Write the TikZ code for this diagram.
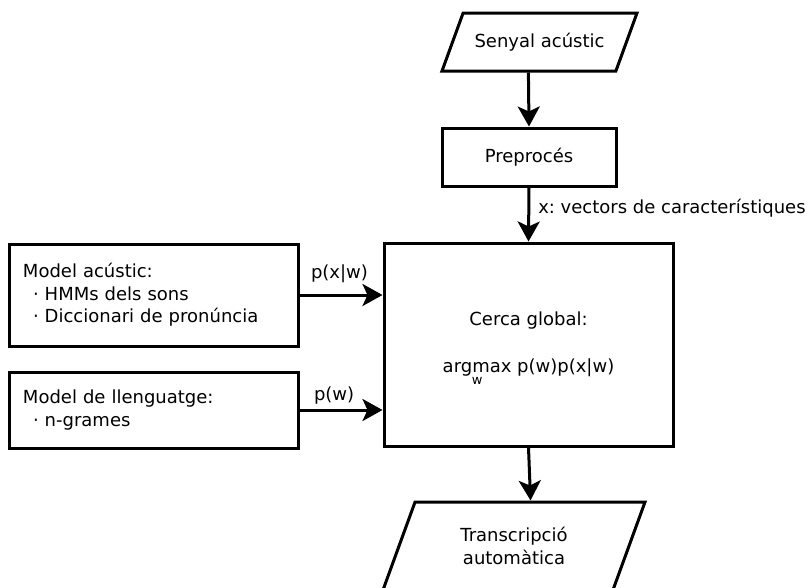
\documentclass[tikz,border=0pt]{standalone}
\usepackage{fontspec}
\setmainfont{DejaVu Sans}
\usetikzlibrary{arrows.meta,shapes.geometric}
\frenchspacing
\newcommand\argw{\smash{\begin{tabular}[t]{@{}c@{}}argmax\\[-10.5pt]{\fontsize{13}{13}\selectfont w}\end{tabular}}}
\begin{document}
\begin{tikzpicture}[x=1pt,y=-1pt,
  every node/.style={font=\fontsize{18}{22.5}\selectfont\frenchspacing},
  box/.style={draw, line width=3pt, rectangle, inner sep=0pt},
  io/.style={draw, line width=3pt, trapezium, trapezium left angle=70, trapezium right angle=110, trapezium stretches body, inner sep=0pt},
  arr/.style={line width=3pt, -{Stealth[length=20pt,width=22pt,inset=5pt]}},
  lbl/.style={inner sep=0pt, anchor=base west}]
\useasboundingbox (0,0) rectangle (811,587);
\clip (0,0) rectangle (811,587);
\node[io, minimum width=195pt] (sa) at (539.5,42) {\parbox[c][58pt][c]{140pt}{\centering Senyal acústic}};
\node[box, minimum width=174pt, minimum height=58pt] (pre) at (529,157) {Preprocés};
\node[box, minimum width=289pt, minimum height=203pt, align=center] (cg) at (528.5,344.5) {Cerca global:\\[24.5pt]\argw\ p(w)p(x|w)};
\node[box, minimum width=289pt, minimum height=102pt, align=left, text width=261pt] (am) at (153.5,295) {Model acústic:\\\hspace*{10pt}· HMMs dels sons\\\hspace*{10pt}· Diccionari de pronúncia};
\node[box, minimum width=289pt, minimum height=76pt, align=left, text width=261pt] (ml) at (153.5,410) {Model de llenguatge:\\\hspace*{10pt}· n-grames};
\node[io, minimum width=262pt] (tr) at (514,546) {\parbox[c][88pt][c]{180pt}{\centering Transcripció\\automàtica}};
\draw[arr] (sa.bottom side) -- (pre.north);
\draw[arr] (pre.south) -- node[lbl, pos=0.5, xshift=8pt, yshift=1.5pt] {x: vectors de característiques} (cg.north);
\draw[arr] (am.east) -- node[lbl, pos=0, xshift=10pt, yshift=17pt] {p(x|w)} (am.east -| cg.west);
\draw[arr] (ml.east) -- node[lbl, pos=0, xshift=13pt, yshift=10pt] {p(w)} (ml.east -| cg.west);
\draw[arr] (cg.south) -- (tr.top side);
\end{tikzpicture}
\end{document}
